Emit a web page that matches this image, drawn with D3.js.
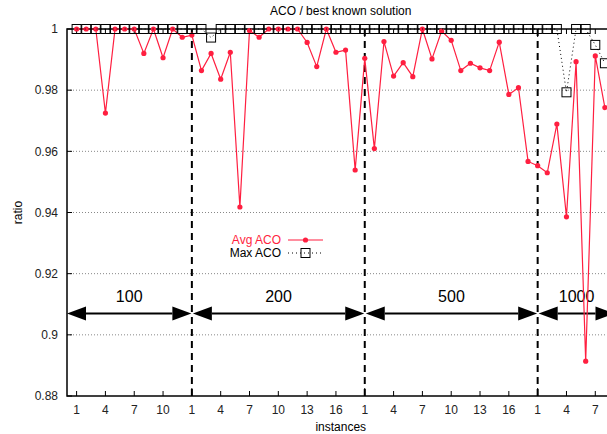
<!DOCTYPE html>
<html>
<head>
<meta charset="utf-8">
<script src="https://cdn.jsdelivr.net/npm/d3@7"></script>
<style>
  body { margin: 0; background: #fff; }
  svg { display: block; overflow: hidden; font-family: "Liberation Sans", Arial, sans-serif; }
</style>
</head>
<body>
<svg id="chart"></svg>
<script>
// groups of instances (index where each group starts on the shared x axis)
const groups = ['100', '200', '500', '1000'];
const groupStarts = [1, 13, 31, 49];
const xMax = 57;

// average ratio per instance (index 1..56)
const avgAco = [
  1, 1, 1, 0.9725, 1, 1, 1, 0.992, 1, 0.9906, 1, 0.9973,
  0.998, 0.9864, 0.992, 0.9836, 0.9924, 0.9418, 0.9995, 0.9973, 1, 1, 1, 1,
  0.9956, 0.9877, 1, 0.9924, 0.9931, 0.9539,
  0.9904, 0.9609, 0.9959, 0.9846, 0.989, 0.9844, 1, 0.9902, 0.9993, 0.9963,
  0.9864, 0.9888, 0.9873, 0.9864, 0.9957, 0.9786, 0.9808, 0.9567,
  0.9553, 0.953, 0.9689, 0.9386, 0.9893, 0.8914, 0.9912, 0.9743
];

// best ratio per instance
const maxAco = [
  1, 1, 1, 1, 1, 1, 1, 1, 1, 1, 1, 1,
  1, 1, 0.9972, 1, 1, 1, 1, 1, 1, 1, 1, 1,
  1, 1, 1, 1, 1, 1,
  1, 1, 1, 1, 1, 1, 1, 1, 1, 1,
  1, 1, 1, 1, 1, 1, 1, 1,
  1, 1, 1, 0.9793, 1, 1, 0.9948, 0.9888
];

const yTicks = [0.88, 0.9, 0.92, 0.94, 0.96, 0.98, 1];

const width = 607;
const height = 434;
const plotL = 67, plotR = 614.5, plotT = 29, plotB = 396;
const red = '#ff1f40';

const svg = d3.select('#chart')
  .attr('width', width)
  .attr('height', height);

const x = d3.scaleLinear().domain([0, xMax]).range([plotL, plotR]);
const y = d3.scaleLinear().domain([0.88, 1]).range([plotB, plotT]);

// x ticks: 1, 4, 7, ... inside every group
const xTicks = [];
groupStarts.forEach((start, g) => {
  const end = g < groupStarts.length - 1 ? groupStarts[g + 1] : xMax + 1;
  for (let i = start; i < end; i += 3) {
    xTicks.push({ i, label: i - start + 1, major: i === start && g > 0 });
  }
});

// grid
svg.append('g')
  .selectAll('line')
  .data(yTicks.filter(t => t > 0.88 && t < 1))
  .join('line')
  .attr('x1', plotL).attr('x2', plotR)
  .attr('y1', d => y(d)).attr('y2', d => y(d))
  .attr('stroke', '#888')
  .attr('stroke-width', 1)
  .attr('stroke-dasharray', '1,2');

// group separators
svg.append('g')
  .selectAll('line')
  .data(groupStarts.slice(1))
  .join('line')
  .attr('x1', d => x(d)).attr('x2', d => x(d))
  .attr('y1', plotT).attr('y2', plotB)
  .attr('stroke', '#000')
  .attr('stroke-width', 2)
  .attr('stroke-dasharray', '7,5');

// group arrows and labels
const arrowY = y(0.907);
const labelY = y(0.9127);
const arrows = svg.append('g');
groups.forEach((name, g) => {
  const x0 = g === 0 ? x(0) : x(groupStarts[g]) + 1;
  const x1 = g < groups.length - 1 ? x(groupStarts[g + 1]) - 0.5 : x(xMax);
  const head = 19, half = 7;
  arrows.append('line')
    .attr('x1', x0 + head).attr('x2', x1 - head)
    .attr('y1', arrowY).attr('y2', arrowY)
    .attr('stroke', '#000').attr('stroke-width', 2);
  arrows.append('path')
    .attr('d', `M${x0},${arrowY}L${x0 + head},${arrowY - half}L${x0 + head},${arrowY + half}Z`)
    .attr('fill', '#000');
  arrows.append('path')
    .attr('d', `M${x1},${arrowY}L${x1 - head},${arrowY - half}L${x1 - head},${arrowY + half}Z`)
    .attr('fill', '#000');
  arrows.append('text')
    .attr('x', (x0 + x1) / 2)
    .attr('y', labelY)
    .attr('dy', '0.35em')
    .attr('text-anchor', 'middle')
    .attr('font-size', 16)
    .text(name);
});

// border
svg.append('rect')
  .attr('x', plotL).attr('y', plotT)
  .attr('width', plotR - plotL).attr('height', plotB - plotT)
  .attr('fill', 'none')
  .attr('stroke', '#000')
  .attr('stroke-width', 1.5);

// y ticks
const yAxis = svg.append('g');
yAxis.selectAll('line.l')
  .data(yTicks)
  .join('line')
  .attr('class', 'l')
  .attr('x1', plotL).attr('x2', plotL + 5)
  .attr('y1', d => y(d)).attr('y2', d => y(d))
  .attr('stroke', '#000');
yAxis.selectAll('text')
  .data(yTicks)
  .join('text')
  .attr('x', plotL - 9)
  .attr('y', d => y(d))
  .attr('dy', '0.35em')
  .attr('text-anchor', 'end')
  .attr('font-size', 12)
  .attr('fill', '#222')
  .text(d => d3.format('')(d));

// x ticks (bottom and mirrored on top)
const xAxis = svg.append('g');
xAxis.selectAll('line.b')
  .data(xTicks)
  .join('line')
  .attr('class', 'b')
  .attr('x1', d => x(d.i)).attr('x2', d => x(d.i))
  .attr('y1', plotB).attr('y2', d => plotB - (d.major ? 8 : 5))
  .attr('stroke', '#000');
xAxis.selectAll('line.t')
  .data(xTicks)
  .join('line')
  .attr('class', 't')
  .attr('x1', d => x(d.i)).attr('x2', d => x(d.i))
  .attr('y1', plotT).attr('y2', d => plotT + (d.major ? 8 : 5))
  .attr('stroke', '#000');
xAxis.selectAll('text')
  .data(xTicks)
  .join('text')
  .attr('x', d => x(d.i))
  .attr('y', plotB + 14)
  .attr('dy', '0.35em')
  .attr('text-anchor', 'middle')
  .attr('font-size', 12)
  .attr('fill', '#222')
  .text(d => d.label);

// titles
svg.append('text')
  .attr('x', (plotL + plotR) / 2).attr('y', 15)
  .attr('text-anchor', 'middle')
  .attr('font-size', 12)
  .text('ACO / best known solution');
svg.append('text')
  .attr('x', (plotL + plotR) / 2).attr('y', 431)
  .attr('text-anchor', 'middle')
  .attr('font-size', 12)
  .text('instances');
svg.append('text')
  .attr('transform', `translate(22, ${(plotT + plotB) / 2}) rotate(-90)`)
  .attr('text-anchor', 'middle')
  .attr('font-size', 12)
  .text('ratio');

// series
const avgPts = avgAco.map((v, k) => ({ i: k + 1, v }));
const maxPts = maxAco.map((v, k) => ({ i: k + 1, v }));
const line = d3.line().x(d => x(d.i)).y(d => y(d.v));

svg.append('path')
  .datum(avgPts)
  .attr('d', line)
  .attr('fill', 'none')
  .attr('stroke', red)
  .attr('stroke-width', 1.2);
svg.append('g')
  .selectAll('circle')
  .data(avgPts)
  .join('circle')
  .attr('cx', d => x(d.i))
  .attr('cy', d => y(d.v))
  .attr('r', 2.6)
  .attr('fill', red);

svg.append('path')
  .datum(maxPts)
  .attr('d', line)
  .attr('fill', 'none')
  .attr('stroke', '#000')
  .attr('stroke-width', 1)
  .attr('stroke-dasharray', '1,3');
svg.append('g')
  .selectAll('rect')
  .data(maxPts)
  .join('rect')
  .attr('x', d => x(d.i) - 4.5)
  .attr('y', d => y(d.v) - 4.5)
  .attr('width', 9).attr('height', 9)
  .attr('fill', 'none')
  .attr('stroke', '#000')
  .attr('stroke-width', 1);

// legend
const legend = svg.append('g');
legend.append('text')
  .attr('x', 281).attr('y', 240).attr('dy', '0.35em')
  .attr('text-anchor', 'end').attr('font-size', 12)
  .attr('fill', red)
  .text('Avg ACO');
legend.append('line')
  .attr('x1', 288).attr('x2', 323).attr('y1', 240).attr('y2', 240)
  .attr('stroke', red).attr('stroke-width', 1.2);
legend.append('circle')
  .attr('cx', 305.5).attr('cy', 240).attr('r', 2.6).attr('fill', red);
legend.append('text')
  .attr('x', 281).attr('y', 253).attr('dy', '0.35em')
  .attr('text-anchor', 'end').attr('font-size', 12)
  .text('Max ACO');
legend.append('line')
  .attr('x1', 288).attr('x2', 323).attr('y1', 253).attr('y2', 253)
  .attr('stroke', '#000').attr('stroke-dasharray', '1,3');
legend.append('rect')
  .attr('x', 301).attr('y', 248.5).attr('width', 9).attr('height', 9)
  .attr('fill', 'none').attr('stroke', '#000');
</script>
</body>
</html>
